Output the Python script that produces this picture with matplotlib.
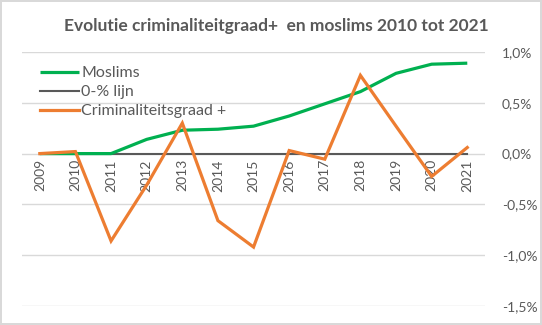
import numpy as np
import matplotlib.pyplot as plt

#### Data ####
years = ['2009', '2010', '2011', '2012', '2013', '2014', '2015',
         '2016', '2017', '2018', '2019', '2020', '2021']
moslims = [0.0, 0.0, 0.0, 0.14, 0.23, 0.24, 0.27,
           0.37, 0.49, 0.61, 0.79, 0.88, 0.89]          # % per jaar
nul_lijn = [0.0] * len(years)
criminaliteit = [0.0, 0.02, -0.86, -0.31, 0.30, -0.66, -0.92,
                 0.03, -0.055, 0.77, 0.27, -0.225, 0.06]  # % per jaar
yticks = [1.0, 0.5, 0.0, -0.5, -1.0, -1.5]

#### Styles ####
GREY = '#595959'
GRID = '#d9d9d9'

plt.rcParams['font.family'] = ['Lato', 'DejaVu Sans']

fig = plt.figure(figsize=(5.42, 3.25), dpi=100)
fig.patch.set_edgecolor(GRID)
fig.patch.set_linewidth(1.5)
ax = fig.add_axes([0.0406, 0.0585, 0.8544, 0.7815])

x = np.arange(len(years))
ax.plot(x, moslims, color='#00B050', lw=2.3, label='Moslims',
        solid_capstyle='butt', zorder=3)
ax.plot(x, nul_lijn, color=GREY, lw=1.5, label='0-% lijn', zorder=2)
ax.plot(x, criminaliteit, color='#ED7D31', lw=2.3,
        label='Criminaliteitsgraad +', solid_joinstyle='miter', zorder=4)

ax.set_xlim(-0.5, len(years) - 0.5)
ax.set_ylim(-1.5, 1.0)

# y-axis on the right, Dutch decimal comma
ax.yaxis.tick_right()
ax.set_yticks(yticks)
ax.set_yticklabels(['{:.1f}%'.format(v).replace('.', ',') for v in yticks])
ax.tick_params(axis='y', length=0, pad=12, labelsize=10, labelcolor=GREY)
ax.grid(axis='y', color=GRID, lw=1)
ax.set_axisbelow(True)

# category labels sit right below the zero line
ax.spines['bottom'].set_position(('data', 0))
ax.set_xticks(x)
ax.set_xticklabels(years, rotation=90)
ax.tick_params(axis='x', length=0, pad=4, labelsize=10, labelcolor=GREY)

for s in ax.spines.values():
    s.set_visible(False)

leg = ax.legend(loc='upper left', bbox_to_anchor=(0.012, 0.995), frameon=False,
                fontsize=11.5, handlelength=2.4, handletextpad=0.15,
                labelspacing=0.3, borderaxespad=0.4)
for t in leg.get_texts():
    t.set_color(GREY)

fig.text(0.51, 0.92, 'Evolutie criminaliteitgraad+  en moslims 2010 tot 2021',
         ha='center', va='center', fontsize=12.5, fontweight='bold', color=GREY)

fig.savefig('out.png', dpi=100)
